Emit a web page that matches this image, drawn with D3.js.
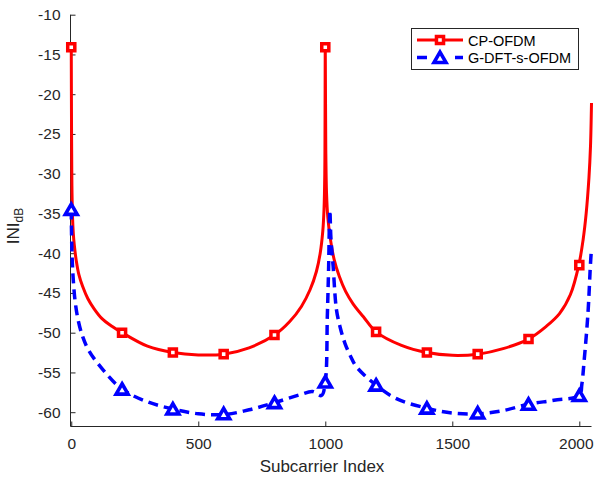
<!DOCTYPE html>
<html>
<head>
<meta charset="utf-8">
<script src="https://cdn.jsdelivr.net/npm/d3@7"></script>
<style>
  body { margin: 0; background: #fff; }
  svg { display: block; font-family: "Liberation Sans", Arial, sans-serif; }
  .axis path, .axis line { stroke: #262626; }
  .axis text { fill: #262626; font-size: 15.5px; }
</style>
</head>
<body>
<div id="container"></div>
<script>
const width = 595;
const height = 477;

// curve samples (subcarrier index, INI in dB)
const cpIndex = [0, 1, 2, 3, 5, 8, 12, 20, 30, 45, 65, 90, 120, 160, 200, 300, 400, 500, 600, 700, 800, 860, 906, 940, 965, 980, 990, 995, 998, 1000,
  1002, 1005, 1010, 1020, 1035, 1055, 1080, 1110, 1150, 1200, 1300, 1400, 1500, 1600, 1700, 1800, 1870, 1922, 1965, 1998, 2015, 2027, 2038, 2044, 2048];
const cpValue = [-14.1, -24, -29.5, -32.5, -35.5, -37.5, -39, -41, -42.7, -44.2, -45.7, -47, -48.2, -49.2, -50.0, -51.7, -52.5, -52.8, -52.7, -51.9, -50.3, -48.6, -46.7, -44.6, -42.3, -40, -37.3, -34.5, -30, -14.1,
  -27, -32.5, -35.5, -38.2, -40.8, -42.9, -44.8, -46.4, -48, -49.9, -51.6, -52.5, -52.85, -52.7, -52.0, -50.8, -49.2, -47.6, -45.2, -41.5, -38.3, -35, -30.5, -26.6, -21.1];

const gIndex = [0, 1.5, 4, 8, 15, 27, 45, 70, 126, 200, 300, 400, 500, 600, 700, 800, 900, 950, 985, 1000, 1008, 1013, 1018,
  1022, 1031, 1044, 1060, 1077, 1100, 1123, 1200, 1280, 1400, 1500, 1600, 1700, 1800, 1900, 2000, 2010, 2018, 2034, 2044, 2048];
const gValue = [-34.5, -38.3, -41, -43.4, -46, -48.4, -50.5, -52.3, -54.7, -57.1, -58.7, -59.6, -60.2, -60.3, -59.7, -58.8, -57.8, -57.4, -57.9, -56.2, -48, -42, -34.6,
  -38, -41.7, -47.1, -49.5, -51.3, -53, -54.3, -56.6, -58.3, -59.5, -60.1, -60.2, -59.8, -59.0, -58.5, -57.9, -56.5, -53.9, -47.6, -41.3, -39.4];

// marker positions and values
const markerIndex = [0, 200, 400, 600, 800, 1000, 1200, 1400, 1600, 1800, 2000];
const cpMarkers = [-14.1, -50.0, -52.5, -52.7, -50.3, -14.1, -49.9, -52.5, -52.7, -50.8, -41.5];
const gMarkers = [-34.5, -57.1, -59.6, -60.2, -58.8, -56.2, -56.6, -59.5, -60.1, -59.0, -57.9];

const xTicks = [0, 500, 1000, 1500, 2000];
const yTicks = [-10, -15, -20, -25, -30, -35, -40, -45, -50, -55, -60];
const seriesNames = ["CP-OFDM", "G-DFT-s-OFDM"];

const xScale = d3.scaleLinear().domain([-3, 2048]).range([70.5, 591.5]);
const yScale = d3.scaleLinear().domain([-61.8, -10]).range([426.5, 14.7]);

const svg = d3.select("#container").append("svg")
    .attr("width", width)
    .attr("height", height);

// axes, ticks pointing inward like matlab, plain hyphen minus
svg.append("g")
    .attr("class", "axis")
    .attr("transform", "translate(0," + 426.5 + ")")
    .call(d3.axisBottom(xScale).tickValues(xTicks).tickFormat(d => String(d))
        .tickSizeInner(-5).tickSizeOuter(0).tickPadding(11))
    .call(g => g.select(".domain").attr("d", "M70.5,0H591.5"))
    .call(g => g.selectAll(".tick text").filter(d => d === 2000).attr("dx", -3.5));

svg.append("g")
    .attr("class", "axis")
    .attr("transform", "translate(70.5,0)")
    .call(d3.axisLeft(yScale).tickValues(yTicks).tickFormat(d => String(d))
        .tickSizeInner(-5).tickSizeOuter(0).tickPadding(10))
    .call(g => g.select(".domain").attr("d", "M0,14.7V426.5"));

svg.append("text")
    .attr("x", 322)
    .attr("y", 472)
    .attr("text-anchor", "middle")
    .attr("fill", "#262626")
    .style("font-size", "17px")
    .text("Subcarrier Index");

const ylab = svg.append("text")
    .attr("transform", "translate(19,226) rotate(-90)")
    .attr("text-anchor", "middle")
    .attr("fill", "#262626")
    .style("font-size", "17px");
ylab.append("tspan").text("INI");
ylab.append("tspan").attr("dy", 4).style("font-size", "12px").text("dB");

const line = d3.line()
    .x(d => xScale(d[0]))
    .y(d => yScale(d[1]))
    .curve(d3.curveCatmullRom.alpha(0.5));

const cpData = cpIndex.map((k, i) => [k, cpValue[i]]);
const gData = gIndex.map((k, i) => [k, gValue[i]]);

svg.append("path")
    .attr("d", line(cpData))
    .attr("fill", "none")
    .attr("stroke", "#ff0000")
    .attr("stroke-width", 3);

svg.append("path")
    .attr("d", line(gData))
    .attr("fill", "none")
    .attr("stroke", "#0000ff")
    .attr("stroke-width", 3.5)
    .attr("stroke-dasharray", "10,6");

const square = d3.symbol().type(d3.symbolSquare).size(50);
const tri = d3.symbol().type(d3.symbolTriangle).size(62);

svg.selectAll(".sq")
    .data(markerIndex)
    .enter().append("path")
    .attr("class", "sq")
    .attr("d", square)
    .attr("transform", (d, i) => "translate(" + xScale(d) + "," + yScale(cpMarkers[i]) + ")")
    .attr("fill", "#fff")
    .attr("stroke", "#ff0000")
    .attr("stroke-width", 3.5);

svg.selectAll(".tri")
    .data(markerIndex)
    .enter().append("path")
    .attr("class", "tri")
    .attr("d", tri)
    .attr("transform", (d, i) => "translate(" + xScale(d) + "," + (yScale(gMarkers[i]) + 1.5) + ")")
    .attr("fill", "#fff")
    .attr("stroke", "#0000ff")
    .attr("stroke-width", 3.6);

// legend
const legend = svg.append("g");
legend.append("rect")
    .attr("x", 411.5).attr("y", 28.5)
    .attr("width", 167).attr("height", 41)
    .attr("fill", "#fff")
    .attr("stroke", "#262626")
    .attr("stroke-width", 1);

legend.append("line")
    .attr("x1", 417).attr("x2", 463).attr("y1", 40).attr("y2", 40)
    .attr("stroke", "#ff0000").attr("stroke-width", 3);
legend.append("path")
    .attr("d", square)
    .attr("transform", "translate(440,40)")
    .attr("fill", "#fff").attr("stroke", "#ff0000").attr("stroke-width", 3.5);

legend.append("line")
    .attr("x1", 417).attr("x2", 463).attr("y1", 57.5).attr("y2", 57.5)
    .attr("stroke", "#0000ff").attr("stroke-width", 3.5)
    .attr("stroke-dasharray", "10,28");
legend.append("path")
    .attr("d", tri)
    .attr("transform", "translate(440,59)")
    .attr("fill", "#fff").attr("stroke", "#0000ff").attr("stroke-width", 3.6);

legend.selectAll(".lt")
    .data(seriesNames)
    .enter().append("text")
    .attr("x", 468)
    .attr("y", (d, i) => 45.5 + i * 17.5)
    .attr("fill", "#000")
    .style("font-size", "14.5px")
    .text(d => d);
</script>
</body>
</html>
